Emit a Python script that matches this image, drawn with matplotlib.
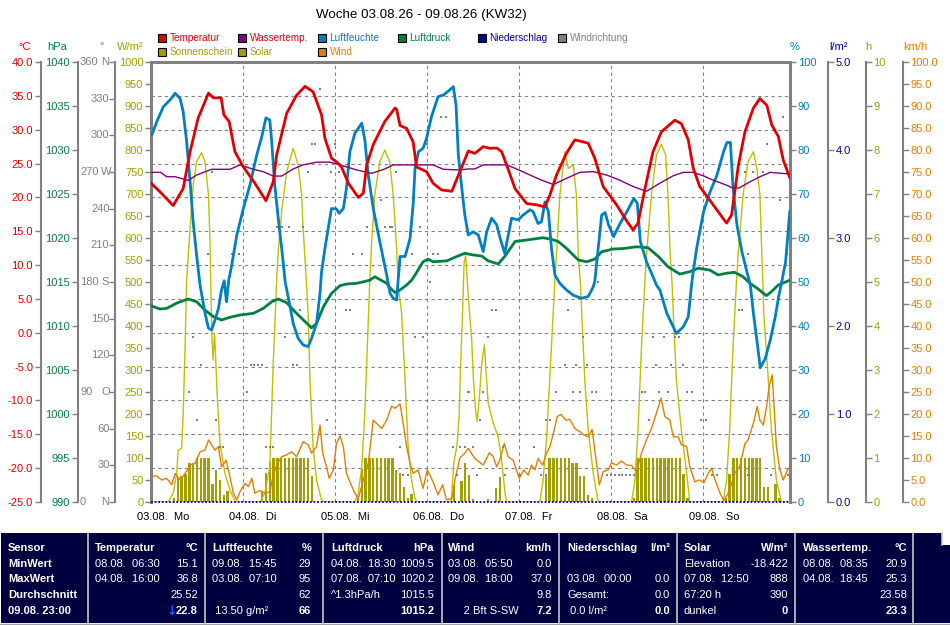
import matplotlib
matplotlib.use('Agg')
import matplotlib.pyplot as plt
from matplotlib.patches import Rectangle
from matplotlib.lines import Line2D
from matplotlib.ticker import FormatStrFormatter, FixedLocator

plt.rcParams['font.family'] = ['Liberation Sans', 'DejaVu Sans']
plt.rcParams['axes.unicode_minus'] = False

# ---------------- data (time in hours since 03.08. 00:00) ----------------
title = "Woche 03.08.26 - 09.08.26 (KW32)"
day_labels = ["03.08.  Mo", "04.08.  Di", "05.08.  Mi", "06.08.  Do", "07.08.  Fr", "08.08.  Sa", "09.08.  So"]

temp_t = [0, 2.3, 5.8, 8.4, 10.2, 12.3, 15.0, 16.3, 18.3, 19.0, 20.4, 21.9, 24.1, 27.1, 30.0, 31.9, 32.8,
          35.4, 38.0, 40.2, 42.3, 44.5, 45.4, 47.1, 48.9, 49.7, 51.5, 54.1, 55.4, 56.3, 58.0, 61.0, 63.7,
          64.1, 65.0, 66.7, 68.4, 69.3, 71.9, 73.6, 75.8, 78.5, 80.6, 82.8, 84.5, 86.7, 88.4, 90.2, 91.5,
          92.8, 95.0, 98.0, 100.6, 102.8, 104.1, 105.8, 108.4, 110.6, 112.8, 114.1, 115.8, 118.0, 121.5,
          124.5, 125.8, 127.1, 128.9, 131.0, 133.2, 136.7, 138.4, 140.2, 141.5, 143.2, 146.7, 150.2, 151.5,
          153.3, 155.0, 157.2, 158.9, 160.7, 162.0, 163.7, 165.0, 166.7]
temp_v = [22.1, 20.85, 18.8, 21.3, 26.75, 31.7, 35.4, 34.7, 34.7, 32.2, 31.2, 26.75, 24.5, 22.1, 19.5, 22.3, 26.3,
          32.4, 35.1, 36.4, 35.6, 32.2, 28.7, 25.8, 25.0, 24.5, 22.1, 20.0, 20.6, 24.8, 27.8, 31.2, 33.2,
          33.0, 30.6, 30.2, 28.2, 24.5, 23.8, 22.1, 21.1, 20.9, 23.8, 26.85, 26.5, 27.5, 27.25, 27.3, 26.75,
          24.8, 21.3, 19.1, 18.9, 18.6, 20.35, 23.3, 26.5, 28.5, 28.2, 28.0, 25.8, 21.6, 18.9,
          16.2, 15.2, 16.2, 21.3, 26.75, 29.7, 31.4, 30.9, 28.5, 24.3, 21.6, 18.9, 16.2, 17.4,
          24.8, 29.7, 33.2, 34.6, 33.6, 30.7, 29.0, 25.5, 22.9]

water_t = [0, 2.5, 4.1, 6.3, 9.7, 11.9, 15.8, 20.6, 23.2, 26.7, 29.3, 31.9, 34.1, 37.1, 39.7, 43.2, 46.7,
           49.3, 53.7, 57.6, 61.0, 63.2, 73.6, 76.3, 80.6, 82.8, 84.5, 86.7, 92.8, 95.4, 98.9, 101.9, 105.0,
           108.4, 111.9, 115.4, 118.9, 122.3, 125.8, 129.3, 132.8, 136.3, 138.9, 141.5, 144.1, 146.7, 150.2,
           151.9, 153.5, 156.3, 158.9, 161.6, 166.7]
water_v = [23.7, 23.7, 23.05, 23.05, 22.5, 23.3, 24.15, 24.15, 24.8, 24.15, 23.8, 23.15, 23.15, 24.2, 24.8, 25.2, 25.2,
           24.8, 24.05, 23.55, 24.2, 24.8, 24.8, 24.15, 24.05, 24.2, 24.2, 24.8, 24.8, 24.2, 23.3, 22.55, 21.9,
           22.8, 23.7, 23.8, 23.3, 22.55, 21.6, 20.9, 22.1, 23.2, 23.7, 23.7, 23.2, 22.55, 21.8,
           21.35, 21.4, 22.3, 23.05, 23.7, 23.45]

hum_t = [0.2, 1.5, 3.2, 5.0, 6.3, 7.6, 8.4, 9.3, 10.2, 11.0, 11.9, 12.8, 14.1, 15.0, 15.8, 16.7, 17.6, 18.4,
         19.1, 19.7, 20.3, 21.0, 22.4, 24.1, 25.8, 27.6, 28.9, 30.0, 31.0, 31.5, 32.3, 33.2, 34.1, 35.0, 36.3,
         37.1, 38.4, 39.7, 41.0, 41.9, 43.2, 44.1, 44.5, 45.4, 47.1, 48.4, 49.1, 50.2, 51.0, 51.9, 53.2, 55.0,
         55.8, 56.7, 58.0, 59.7, 61.5, 62.4, 63.2, 64.1, 64.5, 65.0, 66.3, 67.6, 68.4, 68.9, 69.8, 71.0, 71.9,
         73.2, 74.9, 76.3, 77.6, 78.9, 79.6, 80.2, 81.1, 81.9, 82.8, 84.1, 85.4, 86.7, 87.6, 88.9, 90.2, 91.0,
         92.3, 94.1, 95.8, 97.1, 98.9, 99.7, 101.0, 101.9, 102.8, 103.7, 104.5, 105.4, 106.7, 108.4, 110.2,
         112.3, 114.1, 115.4, 115.8, 116.7, 117.6, 118.5, 119.4, 120.7, 122.4, 124.2, 126.0, 126.9, 127.7,
         129.3, 131.0, 131.9, 132.8, 134.6, 137.1, 138.9, 140.2, 141.1, 141.5, 142.4, 144.2, 145.9, 147.7,
         149.4, 150.3, 151.2, 151.9, 152.9, 154.2, 155.5, 156.4, 157.2, 158.1, 159.0, 160.3, 161.6, 162.9,
         163.8, 164.7, 165.6, 166.7]
hum_v = [83.4, 86.4, 89.8, 91.4, 92.9, 91.7, 88.7, 81.9, 72.8, 63.7, 56.1, 49.3, 42.9, 39.5, 39.1, 41.4, 44.0, 48.2,
         50.3, 45.5, 50.5, 53.5, 60.7, 66.7, 72.0, 78.9, 83.0, 87.3, 86.8, 81.9, 72.0, 64.5, 57.7, 50.1, 44.4,
         40.6, 37.2, 35.7, 35.3, 37.2, 40.6, 47.4, 52.3, 57.7, 66.7, 66.6, 65.6, 66.7, 71.3, 79.6, 83.8, 86.1,
         82.3, 74.3, 66.7, 59.2, 51.6, 47.4, 46.3, 45.9, 50.5, 55.8, 55.8, 59.9, 67.5, 75.8, 79.6, 80.4, 82.6,
         87.6, 92.1, 92.5, 93.4, 94.4, 90.2, 78.9, 71.3, 65.2, 60.7, 61.4, 60.7, 56.9, 61.4, 64.5, 63.0, 60.3,
         56.5, 64.5, 64.1, 65.2, 66.4, 66.0, 63.3, 63.7, 68.2, 66.0, 57.7, 51.6, 49.7, 48.2, 47.0,
         46.3, 46.7, 48.9, 50.1, 57.7, 65.2, 65.8, 63.0, 60.3, 63.3, 66.0, 69.0, 67.9, 59.2,
         54.6, 51.2, 49.3, 48.2, 42.9, 38.3, 39.8, 42.1, 49.7, 52.3, 57.7, 66.0, 70.5, 74.3,
         79.6, 81.7, 81.7, 71.3, 63.0, 56.9, 52.3, 49.3, 42.9, 36.8, 30.5, 32.6, 36.8, 42.1,
         46.7, 50.5, 54.6, 66.0]

press_t = [0.2, 2.3, 4.1, 6.7, 9.7, 11.9, 14.1, 16.3, 18.4, 20.6, 23.2, 26.7, 29.3, 31.5, 33.2, 35.4, 37.6,
           40.2, 41.9, 43.2, 45.0, 47.1, 49.3, 51.0, 53.7, 57.1, 58.4, 61.5, 62.2, 63.7, 65.0, 66.7, 68.0, 68.9,
           71.0, 72.3, 73.6, 77.2, 79.8, 81.9, 84.1, 86.3, 88.0, 90.6, 92.3, 95.0, 98.0, 102.3, 104.5, 106.3,
           108.4, 111.5, 113.7, 115.8, 117.6, 120.6, 123.2, 126.7, 129.7, 132.4, 134.9, 138.0, 140.6, 142.8,
           145.8, 148.0, 150.2, 152.3, 154.5, 156.3, 158.2, 160.6, 161.9, 163.7, 166.7]
press_v = [1012.27, 1011.93, 1012.0, 1012.6, 1013.07, 1012.76, 1011.8, 1011.06, 1010.68, 1010.99, 1011.25, 1011.44,
           1012.0, 1012.76, 1013.07, 1012.65, 1011.6, 1010.5, 1009.8, 1010.3, 1012.2, 1013.7, 1014.58, 1014.77,
           1014.85, 1015.2, 1015.6, 1014.85, 1014.4, 1013.8, 1014.1, 1014.66, 1015.2, 1015.8, 1017.3, 1017.6,
           1017.3, 1017.4, 1017.9, 1018.26, 1018.07, 1017.95, 1017.4, 1017.05, 1017.9, 1019.6, 1019.77, 1020.03,
           1019.85, 1019.6, 1018.83, 1017.5, 1017.3, 1017.6, 1018.44, 1018.75, 1018.8, 1019.0, 1018.9, 1017.9,
           1016.74, 1015.9, 1016.17, 1016.56, 1016.36, 1015.8, 1016.0, 1016.1, 1015.6, 1014.85, 1014.28,
           1013.45, 1013.9, 1014.66, 1015.2]

solar_t = [0, 4.5, 5.8, 6.7, 7.1, 8.0, 8.4, 8.9, 9.3, 10.2, 11.0, 11.9, 13.2, 14.1, 15.0, 15.4, 15.6, 15.9,
           16.2, 16.6, 17.3, 18.0, 19.3, 20.6, 21.9, 22.5,
           28.5, 29.7, 31.0, 31.9, 32.8, 33.2, 34.1, 35.4, 37.1, 38.4, 39.3, 39.7, 40.6, 41.0, 41.5, 42.3, 43.2,
           44.5, 45.0,
           53.2, 54.1, 55.0, 55.8, 57.1, 57.6, 58.4, 59.7, 61.0, 62.3, 63.2, 64.1, 64.5, 65.4, 66.3, 67.1, 68.0,
           68.9, 69.5,
           77.8, 78.4, 79.0, 79.8, 80.4, 80.8, 81.3, 81.7, 82.1, 82.8, 83.7, 84.1, 84.7, 85.1, 85.7, 86.3, 87.0,
           87.4, 88.0, 89.3, 90.6, 91.5, 92.4, 92.8,
           101.5, 102.3, 103.2, 104.5, 105.4, 105.8, 106.7, 108.0, 108.9, 110.2, 111.0, 111.5, 112.1, 112.4,
           113.2, 114.1, 115.4, 116.7,
           125.4, 126.3, 127.1, 128.0, 128.9, 129.3, 130.6, 131.9, 133.2, 134.3, 134.9, 135.5, 136.0, 136.3,
           137.1, 138.4, 139.8, 140.6,
           149.3, 150.2, 151.0, 151.9, 152.8, 153.2, 154.5, 155.8, 157.2, 158.1, 158.9, 159.4, 159.7, 159.9,
           161.1, 161.9, 163.2, 164.5, 166.7]
solar_v = [0, 0, 20, 65, 118, 122, 201, 353, 505, 622, 720, 773, 794, 773, 698, 592, 493, 376,
           323, 383, 239, 133, 65, 27, 3, 0,
           0, 20, 80, 315, 505, 569, 660, 750, 804, 766, 698, 622, 493, 429, 277, 126, 50,
           5, 0,
           0, 20, 80, 201, 505, 592, 698, 773, 800, 773, 698, 577, 493, 429, 277, 126, 50,
           8, 0,
           0, 5, 88, 126, 194, 315, 429, 543, 561, 467, 368, 285, 209, 183, 239, 315, 357,
           300, 224, 179, 148, 95, 20, 0,
           0, 50, 141, 353, 505, 561, 698, 796, 758, 766, 698, 561, 493, 429,
           277, 164, 65, 0,
           0, 50, 164, 353, 505, 561, 698, 789, 813, 789, 698, 561, 493, 429,
           277, 164, 65, 0,
           0, 50, 164, 353, 505, 561, 698, 773, 796, 758, 698, 561, 493, 429,
           277, 164, 50, 0, 0]

sun_t = [6, 7, 8, 9, 10, 11, 12, 13, 14, 15, 16, 17, 18, 19, 20,
         29, 30, 31, 32, 33, 34, 35, 36, 37, 38, 39, 40, 41, 42,
         54, 55, 56, 57, 58, 59, 60, 61, 62, 63, 64, 65, 66, 67, 68,
         79, 81, 82, 83, 84, 88, 90, 91,
         103, 104, 105, 106, 107, 108, 109, 110, 111, 112, 113, 114, 115,
         126, 127, 128, 129, 130, 131, 132, 133, 134, 135, 136, 137, 138, 139, 140,
         150, 151, 152, 153, 154, 155, 156, 157, 158, 159, 160, 161, 163, 164]
sun_h = [0.08, 0.57, 0.6, 0.64, 0.89, 0.89, 1, 1, 1, 1, 0.4, 0.73, 0.49, 0.15, 0.24,
         0.25, 0.66, 0.9, 1, 1, 1, 1, 1, 1, 1, 1, 1, 1, 0.58,
         0.11, 0.76, 1, 1, 1, 1, 1, 1, 1, 1, 0.73, 0.66, 0.34, 0.08, 0.19,
         0.38, 0.48, 0.89, 0.62, 0.07, 0.07, 0.32, 0.56,
         0.58, 1, 1, 1, 1, 1, 1, 0.89, 0.89, 0.58, 0.58, 0.15, 0.08,
         0.08, 1, 1, 1, 1, 1, 1, 1, 1, 1, 1, 1, 1, 0.64, 0.08,
         0.08, 0.64, 1, 1, 1, 1, 1, 1, 1, 1, 0.34, 0.34, 0.4, 0.08]

wind_t = [0.2, 1.5, 2.8, 4.1, 5.4, 6.3, 7.6, 8.9, 10.2, 11.5, 12.8, 14.1, 15.0, 15.8, 16.7, 17.6, 18.4, 19.6,
          20.4, 21.5, 22.4, 23.2, 24.5, 25.4, 26.3, 27.1, 28.4, 29.7, 31.0, 31.9, 32.8, 34.1, 35.4, 36.7, 38.0,
          39.7, 41.0, 41.9, 43.2, 44.1, 44.8, 45.8, 46.5, 47.6, 48.4, 49.3, 50.2, 51.0, 51.9, 53.2, 54.1, 55.4,
          56.7, 58.0, 59.3, 60.2, 61.5, 62.8, 63.7, 65.0, 65.8, 66.7, 67.6, 68.4, 69.7, 71.0, 72.1, 73.6, 74.9,
          76.1, 77.1, 78.5, 79.3, 80.6, 81.9, 82.8, 84.5, 86.7, 88.3, 89.3, 90.2, 91.0, 92.2, 93.2, 94.5, 96.1,
          97.3, 98.4, 99.3, 100.2, 101.0, 102.2, 103.2, 104.1, 105.0, 106.0, 107.0, 108.3, 109.3, 110.6, 111.9,
          113.0, 114.1, 115.1, 115.8, 117.0, 118.0, 119.3, 120.2, 121.5, 122.8, 124.1, 125.4, 126.7, 128.0,
          129.3, 130.6, 131.9, 133.1, 134.1, 135.4, 136.3, 137.6, 138.4, 139.8, 140.6, 141.9, 143.2, 144.3,
          145.4, 146.3, 147.2, 148.5, 149.5, 150.6, 151.5, 152.3, 153.6, 155.0, 155.8, 157.2, 158.2, 158.9,
          159.8, 160.7, 161.3, 162.1, 162.8, 163.2, 164.1, 165.0, 166.3, 166.7]
wind_v = [5.9, 5.9, 5.0, 5.4, 3.9, 6.5, 5.0, 6.5, 8.4, 8.8, 11.4, 11.8, 14.1, 13.0, 11.8, 12.6, 8.0, 9.5,
          6.5, 2.0, 0.5, 2.3, 4.2, 3.5, 5.4, 2.0, 2.6, 2.0, 2.3, 6.1, 8.4, 10.3, 10.7, 11.4, 10.3,
          13.7, 13.0, 11.1, 12.6, 17.5, 11.1, 8.0, 5.4, 7.3, 13.3, 15.0, 12.6, 6.5, 4.6, 2.0, 0.8, 5.0,
          8.8, 18.6, 17.5, 16.7, 18.6, 21.8, 21.3, 22.3, 17.9, 12.6, 8.8, 6.5, 7.3, 3.1, 7.3, 4.6, 1.6,
          3.9, 0.5, 0.8, 5.0, 10.0, 11.1, 12.2, 9.9, 8.4, 11.2, 10.3, 8.0, 9.5, 13.3, 10.3, 9.5, 5.4,
          7.3, 6.1, 8.4, 7.3, 9.9, 8.4, 11.1, 12.6, 15.6, 19.4, 19.9, 18.6, 18.8, 16.7, 16.0,
          15.2, 14.8, 16.5, 11.8, 3.9, 6.9, 7.3, 8.9, 8.4, 9.3, 8.4, 8.3, 6.9, 11.1,
          14.1, 16.7, 20.2, 23.6, 19.4, 18.6, 14.8, 14.8, 13.0, 12.6, 8.0, 4.6, 5.0, 4.4,
          6.5, 7.7, 5.0, 2.0, 0.3, 2.0, 4.2, 6.5, 8.0, 13.3, 14.1, 17.9, 21.7, 18.6,
          17.5, 22.0, 26.2, 28.9, 18.6, 12.6, 7.3, 5.0, 7.7, 7.2]

wdir_t = [44.1, 41.9, 42.8, 48.0, 41.0, 47.1, 49.0, 15.8, 32.8, 34.1, 36.0, 39.7, 15.0, 21.1, 23.0,
          75.8, 77.0, 71.9, 63.9, 58.0, 59.9, 61.0, 62.4, 63.0, 70.2, 56.3, 52.8, 55.0, 68.0, 73.7, 74.8,
          72.8, 11.0, 13.0, 10.0, 11.9, 17.0, 18.0, 18.9, 25.0, 26.1, 27.0, 28.0, 28.9, 35.0, 37.1, 38.0,
          38.9, 30.0, 31.0, 31.9, 45.8, 50.9, 51.9, 65.0, 65.8, 67.1, 68.9, 71.0, 83.0, 78.9, 81.9, 79.8,
          88.9, 89.9, 88.0, 82.8, 86.7, 85.8, 80.6, 83.9, 85.0, 92.4, 91.9, 96.3, 99.9, 101.9, 103.0,
          103.0, 104.1, 105.8, 110.2, 112.0, 108.9, 108.0, 110.9, 113.8, 112.8, 115.0, 116.1,
          119, 120, 121, 122, 123, 124, 125, 126, 128.1, 128.9, 132.5, 135.0, 130.0, 130.9, 133.8,
          136.7, 137.8, 131.9, 135.8, 138.8, 140.0, 141.1, 143.4, 144.8, 146.3, 147.6, 153.5, 154.1,
          151.9, 155.8, 161.9, 166.3, 164.8, 160.8, 155.0, 157.2, 159.8, 164.1, 155.8, 116.7, 165.9]
wdir_d = [337.5, 292.5, 292.5, 292.5, 270, 270, 270, 270, 225, 225, 225, 225, 202.5, 202.5, 202.5,
          315, 315, 292.5, 270, 247.5, 247.5, 225, 225, 225, 225, 225, 202.5, 202.5, 202.5, 202.5, 202.5,
          180, 135, 112.5, 90, 67.5, 67.5, 45, 45, 90, 112.5, 112.5, 112.5, 112.5, 135, 112.5, 112.5,
          157.5, 45, 45, 45, 67.5, 157.5, 157.5, 45, 22.5, 22.5, 135, 135, 90, 45, 45, 22.5,
          157.5, 157.5, 135, 90, 90, 67.5, 45, 45, 22.5, 22.5, 45, 22.5, 45, 22.5, 22.5,
          67.5, 67.5, 90, 90, 90, 157.5, 112.5, 112.5, 112.5, 135, 90, 90,
          22.5, 22.5, 22.5, 22.5, 22.5, 22.5, 22.5, 22.5, 90, 90, 90, 90, 67.5, 135, 135,
          135, 135, 112.5, 112.5, 112.5, 90, 90, 67.5, 67.5, 22.5, 22.5, 157.5, 157.5,
          22.5, 22.5, 22.5, 22.5, 315, 292.5, 270, 270, 270, 247.5, 202.5, 180, 202.5]

rain_t = [0, 166.75]
rain_v = [0.0, 0.0]

# ---------------- colours ----------------
C_RED = '#e00000'
C_PURPLE = '#800080'
C_BLUE = '#0080c0'
C_GREEN = '#008040'
C_NAVY = '#0000a0'
C_GRAY = '#808080'
C_OLIVE = '#a0a000'
C_SOLAR = '#c0c000'
C_ORANGE = '#e08000'

LEG_FONT = dict(family=['Liberation Sans', 'DejaVu Sans'], fontsize=7.2)

W, H = 950, 625
fig = plt.figure(figsize=(9.5, 6.25), dpi=100)


def fx(x):
    return x / W


def fy(y):
    return 1 - y / H


L, R, T, B = 151, 790, 62, 502
XMAX = 166.75
ax = fig.add_axes([fx(L), fy(B), (R - L) / W, (B - T) / H])
ax.set_xlim(0, XMAX)
ax.set_ylim(-25, 40)
ax.set_xticks([24, 48, 72, 96, 120, 144])
ax.set_yticks(list(range(-20, 40, 5)))
ax.tick_params(length=0, labelleft=False, labelbottom=False)
ax.grid(True, ls=(0, (3, 3)), color=C_GRAY, lw=0.8)
for k in ('left', 'top', 'right'):
    ax.spines[k].set_color(C_GRAY)
    ax.spines[k].set_linewidth(2.2)
ax.spines['bottom'].set_visible(False)


def add_scale(side, pos_px, lo, hi, ticks, color, fmt):
    a = ax.twinx()
    a.set_ylim(lo, hi)
    a.set_xlim(0, XMAX)
    for s in a.spines.values():
        s.set_visible(False)
    sp = a.spines[side]
    sp.set_position(('axes', (pos_px - L) / (R - L)))
    sp.set_visible(pos_px not in (L, R))
    sp.set_color(C_GRAY)
    sp.set_linewidth(1.5)
    a.yaxis.set_ticks_position(side)
    a.yaxis.set_major_locator(FixedLocator(ticks))
    if fmt:
        a.yaxis.set_major_formatter(FormatStrFormatter(fmt))
    a.tick_params(axis='y', direction='out', length=4, width=1, color=C_GRAY,
                  labelcolor=color, labelsize=8, pad=1.5)
    return a


# layered from bottom to top
a_sun = add_scale('right', 865.7, 0, 10, list(range(0, 11)), C_OLIVE, '%d')
a_sun.bar(sun_t, sun_h, width=0.62, color=C_OLIVE, align='center', zorder=1)

a_sol = add_scale('left', 151, 0, 1000, list(range(0, 1001, 50)), C_OLIVE, '%d')
a_sol.plot(solar_t, solar_v, color=C_SOLAR, lw=1.0)

a_wind = add_scale('right', 902.7, 0, 100, [i * 5 for i in range(21)], C_ORANGE, '%.1f')
a_wind.plot(wind_t, wind_v, color=C_ORANGE, lw=1.0)

a_rain = add_scale('right', 828, 0, 5, [0, 1, 2, 3, 4, 5], C_NAVY, '%.1f')
a_rain.plot(rain_t, rain_v, color=C_NAVY, lw=1.3, ls=(0, (1, 1)), clip_on=False)

a_dir = add_scale('left', 115, 0, 360, list(range(0, 361, 30)), C_GRAY, None)
a_dir.set_yticklabels([])
a_dir.scatter(wdir_t, wdir_d, marker='s', s=2.4, color=C_GRAY, linewidths=0)
tr = a_dir.get_yaxis_transform()
dir_letters = {0: 'N', 90: 'O', 180: 'S', 270: 'W', 360: 'N'}
for v in range(0, 361, 30):
    if v in dir_letters:
        a_dir.text((80 - L) / (R - L), v, str(v), transform=tr, ha='left', va='center',
                   fontsize=8, color=C_GRAY, clip_on=False)
        a_dir.text((101 - L) / (R - L), v, dir_letters[v], transform=tr, ha='left', va='center',
                   fontsize=8, color=C_GRAY, clip_on=False)
    else:
        a_dir.text((109.5 - L) / (R - L), v, str(v), transform=tr, ha='right', va='center',
                   fontsize=8, color=C_GRAY, clip_on=False)

a_p = add_scale('left', 77.7, 990, 1040, list(range(990, 1041, 5)), C_GREEN, '%d')
a_p.plot(press_t, press_v, color=C_GREEN, lw=2.0)

a_h = add_scale('right', 790, 0, 100, list(range(0, 101, 10)), C_BLUE, '%d')
a_h.plot(hum_t, hum_v, color=C_BLUE, lw=2.0)

a_t = add_scale('left', 40.7, -25, 40, list(range(-25, 41, 5)), C_RED, '%.1f')
a_t.plot(water_t, water_v, color=C_PURPLE, lw=1.0)
a_t.plot(temp_t, temp_v, color=C_RED, lw=2.0)

# date labels under the time axis
for i, lab in enumerate(day_labels):
    ax.annotate(lab, xy=(i * 24, 0), xycoords=ax.get_xaxis_transform(),
                xytext=(-10.1, -10.8), textcoords='offset points',
                ha='left', va='center', fontsize=8, color='black', annotation_clip=False)

# unit labels
units = [(25, '°C', C_RED), (57.5, 'hPa', C_GREEN), (102, '°', C_GRAY), (130, 'W/m²', C_OLIVE),
         (795, '%', C_BLUE), (838, 'l/m²', C_NAVY), (868, 'h', C_OLIVE), (915, 'km/h', C_ORANGE)]
for x, s, c in units:
    fig.text(fx(x), fy(46.5), s, ha='center', va='center', fontsize=8, color=c)

# title
fig.text(fx(421), fy(15), title, ha='center', va='center', fontsize=9.6, color='black')

# legend
legend = [(158, 38, 'Temperatur', C_RED, C_RED),
          (238, 38, 'Wassertemp.', C_PURPLE, C_RED),
          (318, 38, 'Luftfeuchte', C_BLUE, C_BLUE),
          (398, 38, 'Luftdruck', C_GREEN, C_GREEN),
          (478, 38, 'Niederschlag', C_NAVY, C_NAVY),
          (558, 38, 'Windrichtung', C_GRAY, C_GRAY),
          (158, 52, 'Sonnenschein', C_OLIVE, C_OLIVE),
          (238, 52, 'Solar', C_OLIVE, C_OLIVE),
          (318, 52, 'Wind', C_ORANGE, C_ORANGE)]
for x, y, s, bc, tc in legend:
    fig.patches.append(Rectangle((fx(x), fy(y + 4)), 8 / W, 8 / H, transform=fig.transFigure,
                                 facecolor=bc, edgecolor='black', lw=0.8))
    fig.text(fx(x + 11.5), fy(y), s, ha='left', va='center', color=tc, **LEG_FONT)

# ---------------- bottom table ----------------
NAVYBG = '#000040'
fig.patches.append(Rectangle((fx(1), fy(623)), 941 / W, 90 / H, transform=fig.transFigure,
                             facecolor=NAVYBG, edgecolor='none'))
fig.patches.append(Rectangle((fx(942), fy(623)), 8 / W, 78 / H, transform=fig.transFigure,
                             facecolor=NAVYBG, edgecolor='none'))
for xs in [88, 204.5, 323, 441.5, 558.5, 677, 795, 913]:
    fig.lines.append(Line2D([fx(xs), fx(xs)], [fy(533), fy(623)], transform=fig.transFigure,
                            color='#c8c8c8', lw=1.2))
fig.lines.append(Line2D([fx(942), fx(942)], [fy(533), fy(545)], transform=fig.transFigure,
                        color='#c8c8c8', lw=1.2))
fig.lines.append(Line2D([fx(0), fx(950)], [fy(623.5), fy(623.5)], transform=fig.transFigure,
                        color='#a0a0a0', lw=1.0))

rows_y = [548, 564, 579.5, 595.5, 611.5]
row_heads = ['Sensor', 'MinWert', 'MaxWert', 'Durchschnitt', '09.08. 23:00']
for y, s in zip(rows_y, row_heads):
    fig.text(fx(8), fy(y), s, ha='left', va='center', fontsize=8, color='white', fontweight='bold')

# columns: (left x, right x, header, unit, labels, values)
columns = [
    (95, 198, 'Temperatur', '°C', ['08.08.  06:30', '04.08.  16:00', '', ''], ['15.1', '36.8', '25.52', '22.8']),
    (212, 311, 'Luftfeuchte', '%', ['09.08.  15:45', '03.08.  07:10', '', ' 13.50 g/m²'], ['29', '95', '62', '66']),
    (331, 434, 'Luftdruck', 'hPa', ['04.08.  18:30', '07.08.  07:10', '^1.3hPa/h', ''], ['1009.5', '1020.2', '1015.5', '1015.2']),
    (448, 552, 'Wind', 'km/h', ['03.08.  05:50', '09.08.  18:00', '', '     2 Bft S-SW'], ['0.0', '37.0', '9.8', '7.2']),
    (567, 670, 'Niederschlag', 'l/m²', ['', '03.08.  00:00', 'Gesamt:', ' 0.0 l/m²'], ['', '0.0', '0.0', '0.0']),
    (684, 788, 'Solar', 'W/m²', ['Elevation', '07.08.  12:50', '67:20 h', 'dunkel'], ['-18.422', '888', '390', '0']),
    (803, 907, 'Wassertemp.', '°C', ['08.08.  08:35', '04.08.  18:45', '', ''], ['20.9', '25.3', '23.58', '23.3']),
]
for xl, xr, head, unit, labs, vals in columns:
    fig.text(fx(xl), fy(rows_y[0]), head, ha='left', va='center', fontsize=8, color='white', fontweight='bold')
    fig.text(fx(xr), fy(rows_y[0]), unit, ha='right', va='center', fontsize=8, color='white', fontweight='bold')
    for i in range(4):
        y = rows_y[i + 1]
        if labs[i]:
            fig.text(fx(xl), fy(y), labs[i], ha='left', va='center', fontsize=8, color='white')
        if vals[i]:
            fig.text(fx(xr), fy(y), vals[i], ha='right', va='center', fontsize=8, color='white',
                     fontweight='bold' if i == 3 else 'normal')

fig.text(fx(172), fy(rows_y[4]), '↓', ha='center', va='center', fontsize=9, color='#1060ff',
         fontweight='bold', family=['DejaVu Sans'])

fig.savefig('out.png', dpi=100)
